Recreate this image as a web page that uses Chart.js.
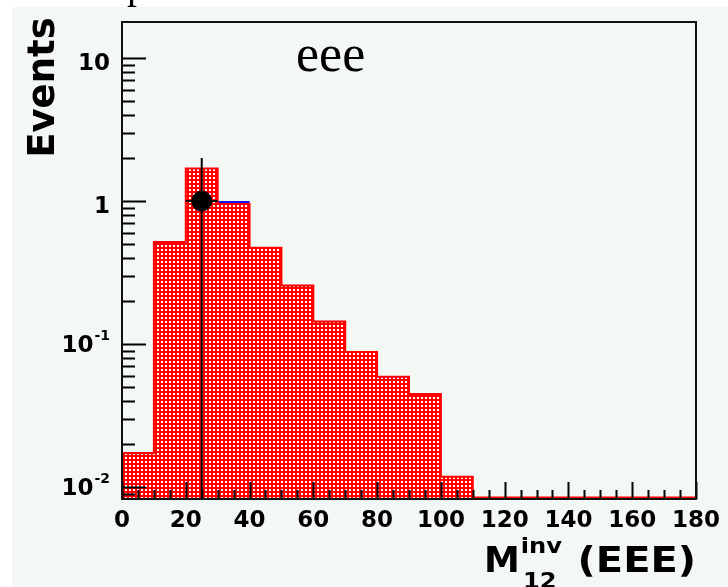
<!DOCTYPE html>
<html>
<head>
<meta charset="utf-8">
<title>M12 inv (EEE)</title>
<script src="https://cdn.jsdelivr.net/npm/chart.js@4.4.1/dist/chart.umd.min.js"></script>
<style>
  html, body { margin: 0; padding: 0; background: #fff; }
  #wrap { position: relative; width: 728px; height: 587px; }
</style>
</head>
<body>
<div id="wrap"><canvas id="massChart"></canvas></div>
<script>
// histogram bins: 10 GeV wide, 0..180
const binLow = [0, 10, 20, 30, 40, 50, 60, 70, 80, 90, 100, 110, 120, 130, 140, 150, 160, 170];
const binWidth = 10;
// eee expectation (red, hatched) and the full stack outline (blue)
const mcEee   = [0.0173, 0.517, 1.69, 0.953, 0.472, 0.257, 0.144, 0.0879, 0.0591, 0.0447, 0.0118, 0, 0, 0, 0, 0, 0, 0];
const mcTotal = [0.0173, 0.517, 1.69, 0.984, 0.472, 0.257, 0.144, 0.0879, 0.0591, 0.0447, 0.0118, 0, 0, 0, 0, 0, 0, 0];
// observed events
const dataX = [25];
const dataY = [1];
const dataErrX = [5];
const dataErrUp = [1];
const dataErrDown = [1];
// axes
const xTicks = [0, 20, 40, 60, 80, 100, 120, 140, 160, 180];
const yTicks = [10, 1, 0.1, 0.01];
const yTickLabels = [['10', ''], ['1', ''], ['10', '-1'], ['10', '-2']];

const FONT = '"DejaVu Sans", "Liberation Sans", sans-serif';
const canvas = document.getElementById('massChart');

function checkerPattern(ctx) {
    const c = document.createElement('canvas');
    c.width = 4; c.height = 4;
    const g = c.getContext('2d');
    g.fillStyle = '#ff0000';
    g.fillRect(0, 0, 4, 4);
    g.fillStyle = '#ffffff';
    g.fillRect(1, 1, 2, 2);
    return ctx.createPattern(c, 'repeat');
}

// step outline of a histogram, zero bins sit on the bottom of the frame
function drawSteps(chart, values, color, onlyIdx) {
    const { ctx, chartArea: a, scales: { x, y } } = chart;
    ctx.save();
    ctx.strokeStyle = color;
    ctx.lineWidth = 2;
    ctx.beginPath();
    values.forEach((v, i) => {
        const xl = x.getPixelForValue(binLow[i]);
        const xr = x.getPixelForValue(binLow[i] + binWidth);
        const py = v > 0 ? y.getPixelForValue(v) : a.bottom - 1.5;
        if (onlyIdx) {
            if (!onlyIdx.includes(i)) return;
            ctx.moveTo(xl, py);
        } else if (i === 0) {
            ctx.moveTo(xl, a.bottom);
            ctx.lineTo(xl, py);
        } else {
            ctx.lineTo(xl, py);
        }
        ctx.lineTo(xr, py);
    });
    ctx.stroke();
    ctx.restore();
}

const rootStyle = {
    id: 'rootStyle',
    beforeDraw(chart) {
        const ctx = chart.ctx;
        ctx.save();
        ctx.fillStyle = '#ffffff';
        ctx.fillRect(0, 0, chart.width, chart.height);
        ctx.fillStyle = '#f4f8f5';
        ctx.fillRect(12, 7, chart.width - 12, chart.height - 7);
        // tail of the caption line above the pad
        ctx.fillStyle = '#000';
        ctx.font = '40px "Liberation Serif", serif';
        ctx.textBaseline = 'alphabetic';
        ctx.fillText('p', 127, -2.5);
        ctx.restore();
    },
    afterDatasetDraw(chart, args) {
        if (args.meta.type !== 'bar') return;
        // blue only shows where the stack exceeds the eee part
        const excess = mcTotal.map((v, i) => v > mcEee[i] ? i : -1).filter(i => i >= 0);
        drawSteps(chart, mcTotal, '#1010e0', excess);
        drawSteps(chart, mcEee, '#ff0000');
    },
    beforeDatasetDraw(chart, args) {
        if (args.meta.type !== 'scatter') return;
        const { ctx, chartArea: a, scales: { x, y } } = chart;
        ctx.save();
        ctx.strokeStyle = '#000';
        ctx.lineWidth = 2;
        dataX.forEach((xv, i) => {
            const px = x.getPixelForValue(xv);
            const py = y.getPixelForValue(dataY[i]);
            const lo = dataY[i] - dataErrDown[i];
            const pyLo = lo > 0 ? y.getPixelForValue(lo) : a.bottom;
            const pyHi = y.getPixelForValue(dataY[i] + dataErrUp[i]);
            ctx.beginPath();
            ctx.moveTo(px, Math.max(pyHi, a.top));
            ctx.lineTo(px, Math.min(pyLo, a.bottom));
            ctx.moveTo(x.getPixelForValue(xv - dataErrX[i]), py);
            ctx.lineTo(x.getPixelForValue(xv + dataErrX[i]), py);
            ctx.stroke();
        });
        ctx.restore();
    },
    afterDatasetsDraw(chart) {
        const { ctx, chartArea: a, scales: { x, y } } = chart;
        ctx.save();
        ctx.strokeStyle = '#000';
        ctx.lineWidth = 2;
        ctx.beginPath();
        // x ticks, inside the frame
        for (let v = x.min; v <= x.max + 1e-9; v += 5) {
            const px = Math.round(x.getPixelForValue(v)) + 0.5;
            const len = v % 20 === 0 ? 17 : 9;
            ctx.moveTo(px, a.bottom);
            ctx.lineTo(px, a.bottom - len);
        }
        // log y ticks
        for (let e = -3; e <= 2; e++) {
            for (let m = 1; m <= 9; m++) {
                const v = m * Math.pow(10, e);
                if (v < y.min || v > y.max) continue;
                const py = Math.round(y.getPixelForValue(v)) + 0.5;
                ctx.moveTo(a.left, py);
                ctx.lineTo(a.left + (m === 1 ? 24 : 13), py);
            }
        }
        ctx.stroke();
        ctx.strokeStyle = '#111';
        ctx.strokeRect(a.left, a.top, a.right - a.left, a.bottom - a.top);
        ctx.restore();
    },
    afterDraw(chart) {
        const { ctx, chartArea: a, scales: { y } } = chart;
        ctx.save();
        ctx.fillStyle = '#000';
        ctx.textBaseline = 'alphabetic';

        // y tick labels with exponents
        yTicks.forEach((v, i) => {
            const py = y.getPixelForValue(v);
            const [base, exp] = yTickLabels[i];
            const right = a.left - 12;
            ctx.textAlign = 'right';
            if (exp) {
                ctx.font = 'bold 14px ' + FONT;
                ctx.fillText(exp, right, py - 4);
                const w = ctx.measureText(exp).width;
                ctx.font = 'bold 23px ' + FONT;
                ctx.fillText(base, right - w - 1, py + 8);
            } else {
                ctx.font = 'bold 23px ' + FONT;
                ctx.fillText(base, right, py + 12);
            }
        });

        // y title
        ctx.save();
        ctx.translate(54, 87.5);
        ctx.rotate(-Math.PI / 2);
        ctx.textAlign = 'center';
        ctx.font = 'bold 37px ' + FONT;
        ctx.fillText('Events', 0, 0);
        ctx.restore();

        // x title: M_12^inv (EEE)
        ctx.textAlign = 'left';
        ctx.font = 'bold 36px ' + FONT;
        const mx = 484;
        ctx.fillText('M', mx, 572);
        const mw = ctx.measureText('M').width;
        ctx.save();
        ctx.translate(mx + mw + 1, 0);
        ctx.scale(1.1, 1);
        ctx.font = 'bold 22px ' + FONT;
        ctx.fillText('inv', 0, 553);
        ctx.fillText('12', 2, 588);
        ctx.restore();
        ctx.save();
        ctx.translate(a.right, 0);
        ctx.scale(1.11, 1);
        ctx.textAlign = 'right';
        ctx.font = 'bold 36px ' + FONT;
        ctx.fillText('(EEE)', 0, 572);
        ctx.restore();

        // channel label
        ctx.textAlign = 'left';
        ctx.font = '52px "Liberation Serif", serif';
        ctx.fillText('eee', 296, 71);
        ctx.restore();
    }
};

const hatch = checkerPattern(canvas.getContext('2d'));

new Chart(canvas, {
    type: 'bar',
    data: {
        datasets: [
            {
                type: 'scatter',
                label: 'data',
                data: dataX.map((x, i) => ({ x: x, y: dataY[i] })),
                pointRadius: 10,
                pointHoverRadius: 10,
                backgroundColor: '#000',
                borderColor: '#000',
                order: 0
            },
            {
                type: 'bar',
                label: 'eee',
                data: binLow.map((lo, i) => ({ x: lo + binWidth / 2, y: mcEee[i] })).filter(p => p.y > 0),
                backgroundColor: hatch,
                borderWidth: 0,
                barPercentage: 1,
                categoryPercentage: 1,
                order: 1
            }
        ]
    },
    options: {
        responsive: true,
        maintainAspectRatio: false,
        animation: false,
        events: [],
        layout: { padding: { left: 0, top: 22, right: 31, bottom: 0 } },
        plugins: { legend: { display: false }, tooltip: { enabled: false } },
        scales: {
            x: {
                type: 'linear',
                min: 0,
                max: 180,
                bounds: 'data',
                offset: false,
                grid: { display: false, offset: false, drawTicks: false },
                border: { display: false },
                afterBuildTicks: s => { s.ticks = xTicks.map(v => ({ value: v })); },
                ticks: {
                    autoSkip: false,
                    maxRotation: 0,
                    padding: 8,
                    color: '#000',
                    font: { family: FONT, weight: 'bold', size: 23 }
                },
                afterFit: s => { s.height = 88; }
            },
            y: {
                type: 'logarithmic',
                min: 0.00824,
                max: 17.9,
                bounds: 'data',
                grid: { display: false },
                border: { display: false },
                ticks: { display: false },
                afterFit: s => { s.width = 122; }
            }
        }
    },
    plugins: [rootStyle]
});
</script>
</body>
</html>
